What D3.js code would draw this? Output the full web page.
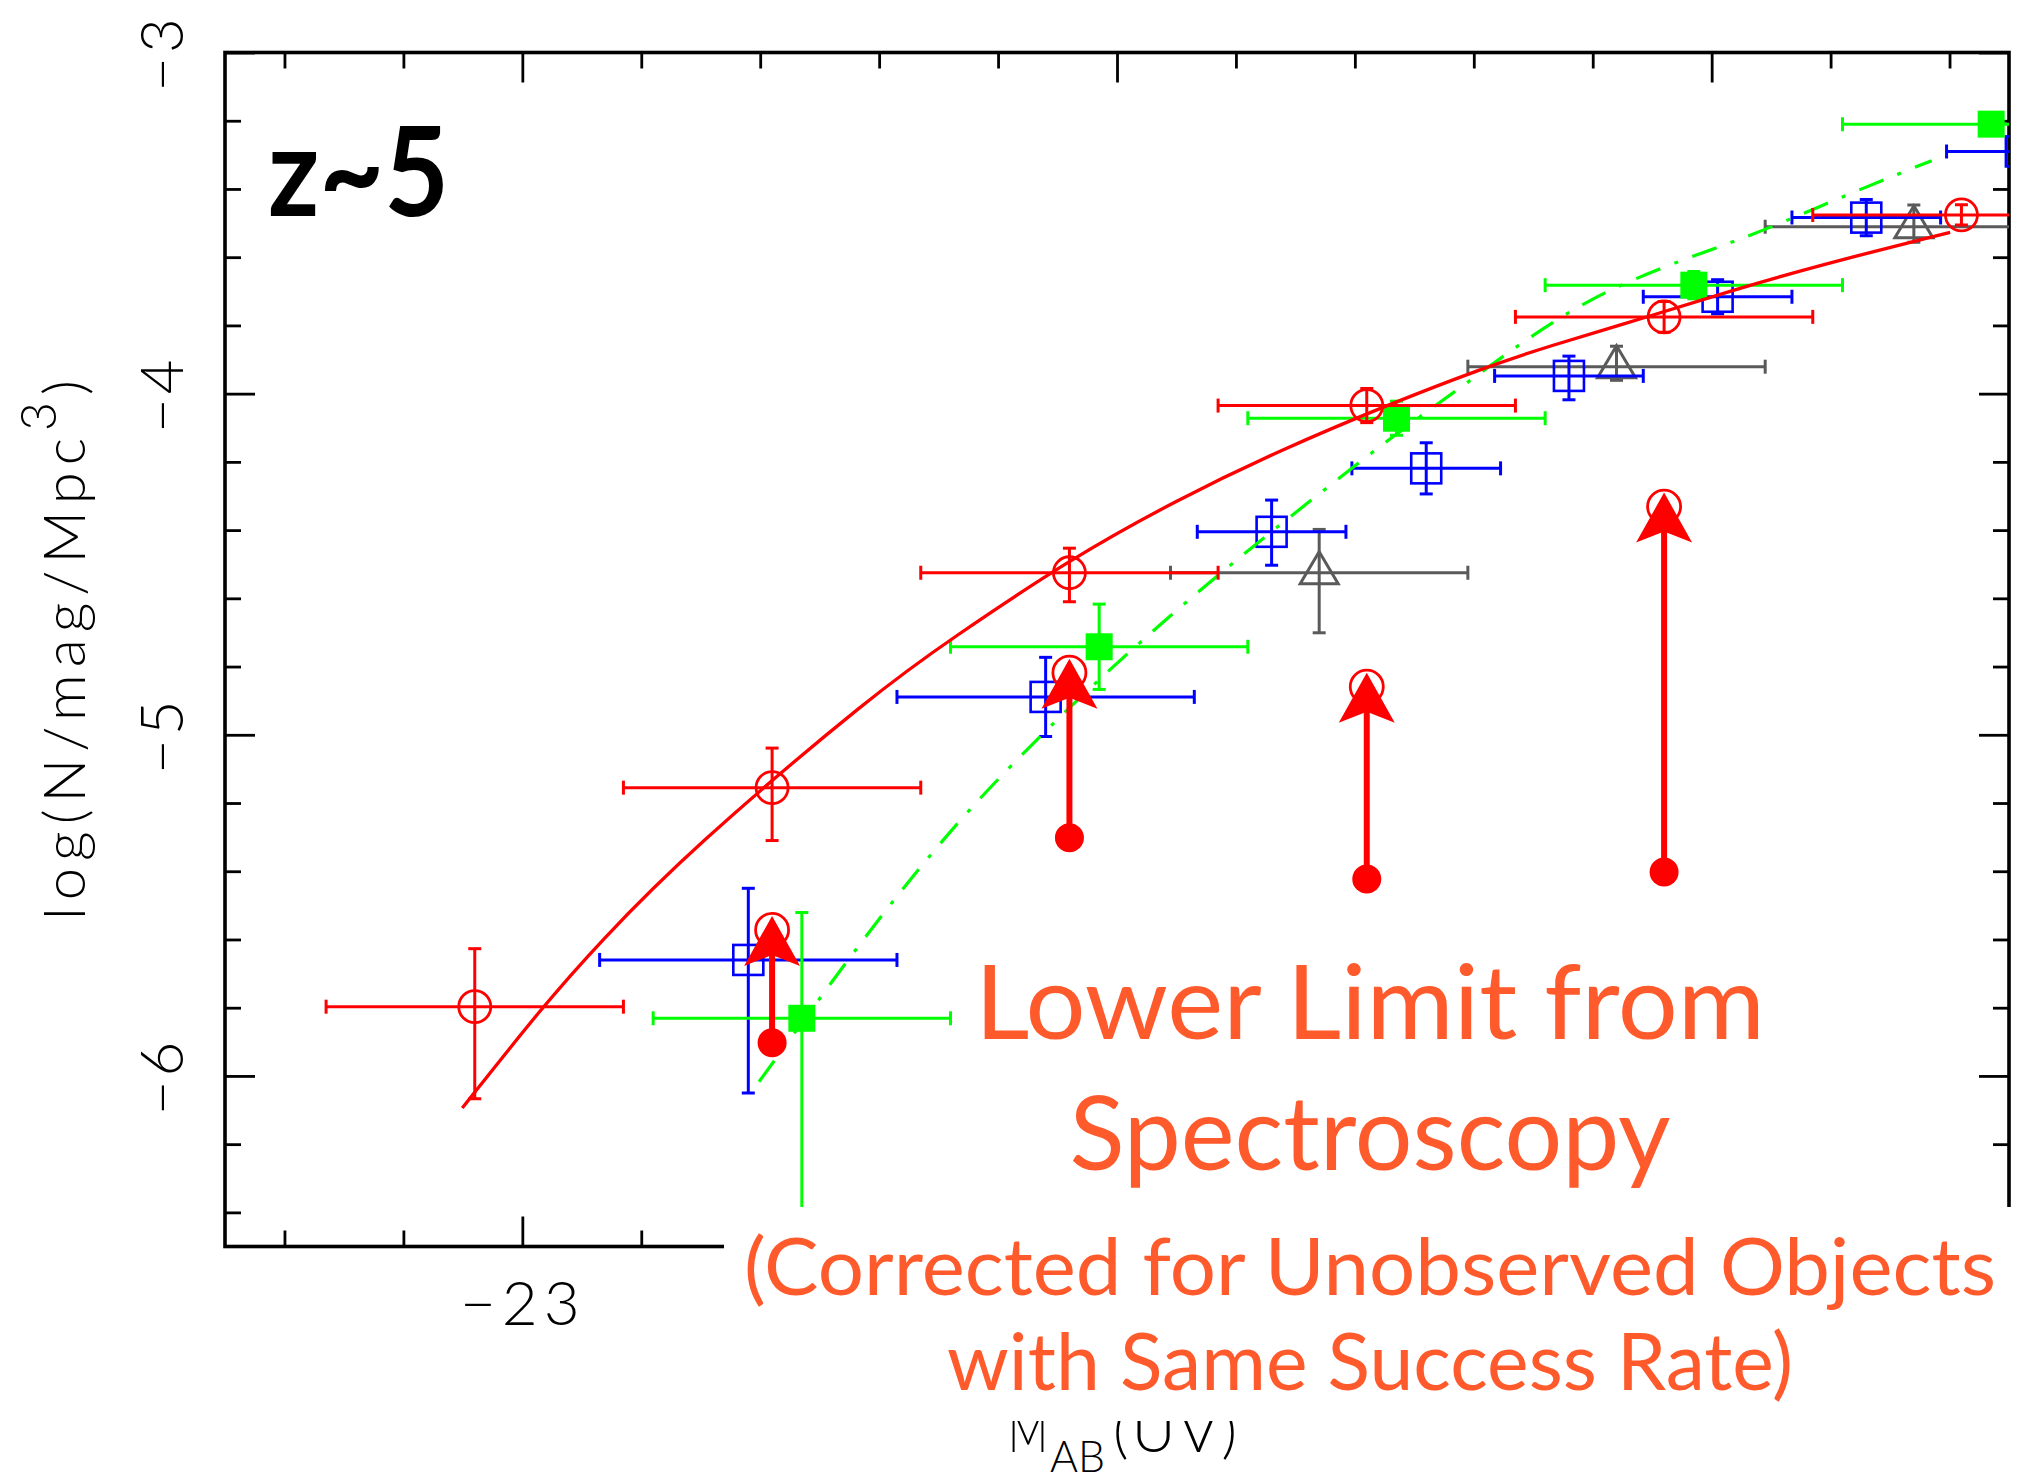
<!DOCTYPE html>
<html>
<head>
<meta charset="utf-8">
<script src="https://cdn.jsdelivr.net/npm/d3@7"></script>
<style>
  html, body { margin: 0; padding: 0; background: #fff; }
  svg { display: block; }
</style>
</head>
<body>
<svg id="chart" width="2018" height="1478"></svg>
<script>
// ---- UV luminosity function at z~5 ----

// Axis ticks
const xMajorTicks = [-23, -22, -21];
const xLabelTicks = [-23];
const yMajorTicks = [-3, -4, -5, -6];

// Open red circles (log phi with asymmetric errors)
const redMag      = [-23.08, -22.58, -22.08, -21.58, -21.08, -20.58];
const redLogPhi   = [-5.797, -5.155, -4.525, -4.035, -3.775, -3.476];
const redMagErr   = [0.25, 0.25, 0.25, 0.25, 0.25, 0.25];
const redErrUp    = [0.17, 0.116, 0.072, 0.05, 0.045, 0.03];
const redErrDown  = [0.27, 0.155, 0.085, 0.05, 0.045, 0.03];

// Open blue squares
const blueMag     = [-22.62, -22.12, -21.74, -21.48, -21.24, -20.99, -20.74, -20.48];
const blueLogPhi  = [-5.66, -4.889, -4.405, -4.219, -3.948, -3.716, -3.484, -3.29];
const blueMagErr  = [0.25, 0.25, 0.125, 0.125, 0.125, 0.125, 0.125, 0.125];
const blueErrUp   = [0.21, 0.116, 0.093, 0.075, 0.058, 0.05, 0.053, 0.04];
const blueErrDown = [0.39, 0.116, 0.098, 0.075, 0.07, 0.05, 0.053, 0.04];

// Filled green squares
const greenMag     = [-22.53, -22.03, -21.53, -21.03, -20.53];
const greenLogPhi  = [-5.831, -4.742, -4.072, -3.682, -3.21];
const greenMagErr  = [0.25, 0.25, 0.25, 0.25, 0.25];
const greenErrUp   = [0.31, 0.125, 0.05, 0.04, 0.03];
const greenErrDown = [0.62, 0.125, 0.05, 0.04, 0.03];

// Open grey triangles
const greyMag     = [-21.66, -21.16, -20.66];
const greyLogPhi  = [-4.525, -3.921, -3.511];
const greyMagErr  = [0.25, 0.25, 0.25];
const greyErrUp   = [0.127, 0.06, 0.064];
const greyErrDown = [0.176, 0.04, 0.045];

// Spectroscopic lower limits: measured (filled dot) -> corrected (open circle)
const limitMag  = [-22.58, -22.08, -21.58, -21.08];
const limitLow  = [-5.903, -5.302, -5.423, -5.402];
const limitHigh = [-5.572, -4.818, -4.859, -4.331];

// Schechter fit (red solid)
const fitRedMag    = [-23.101, -22.966, -22.872, -22.719, -22.401, -22.281, -22.082, -21.900,
                      -21.725, -21.538, -21.384, -21.277, -21.107, -20.961, -20.822, -20.599];
const fitRedLogPhi = [-6.094, -5.797, -5.612, -5.338, -4.869, -4.722, -4.488, -4.312,
                      -4.165, -4.028, -3.925, -3.862, -3.775, -3.695, -3.625, -3.527];

// Comparison fit (green dash-dot)
const fitGreenMag    = [-22.602, -22.439, -22.349, -22.251, -22.131, -22.026, -21.913, -21.800,
                        -21.688, -21.538, -21.423, -21.307, -21.184, -21.038, -20.922, -20.768, -20.630];
const fitGreenLogPhi = [-6.017, -5.626, -5.426, -5.221, -5.006, -4.830, -4.654, -4.488,
                        -4.332, -4.126, -3.984, -3.833, -3.700, -3.600, -3.530, -3.413, -3.317];

// ---- layout ----
const svg = d3.select("#chart");
const L = 225, R = 2009, T = 52.5, B = 1246.5;
const x = d3.scaleLinear().domain([-23.5, -20.5]).range([L, R]);
const y = d3.scaleLinear().domain([-6.5, -3]).range([B, T]);

const AXIS_FONT = "Lato, 'Open Sans', 'DejaVu Sans', sans-serif";
const RED = "#ff0000", BLUE = "#0000ff", GREEN = "#00ff00", GREY = "#5a5a5a";

const xMinor = d3.range(-234, -204, 2).map(v => v / 10).filter(v => !xMajorTicks.includes(v));
const yMinor = d3.range(-64, -30, 2).map(v => v / 10).filter(v => !yMajorTicks.includes(v));

// ---- axes (ticks point inwards on all four sides) ----
function styleAxis(g) {
  g.select(".domain").remove();
  g.selectAll(".tick line").attr("stroke", "#000").attr("stroke-width", 2.8);
}
function addAxis(axisFn, scale, ticks, size, transform, labels) {
  const a = axisFn(scale).tickValues(ticks).tickSize(-size).tickSizeOuter(0)
    .tickFormat(labels ? (d => "\u2212" + Math.abs(d)) : "");
  const g = svg.append("g").attr("transform", transform).call(a).call(styleAxis);
  g.attr("font-family", AXIS_FONT).attr("font-size", 60).attr("font-weight", 300);
  return g;
}
addAxis(d3.axisTop, x, xMinor, 16, `translate(0,${T})`, false);
addAxis(d3.axisTop, x, xMajorTicks, 30, `translate(0,${T})`, false);
addAxis(d3.axisBottom, x, xMinor, 16, `translate(0,${B})`, false);
addAxis(d3.axisBottom, x, xMajorTicks, 30, `translate(0,${B})`, false);
const xLab = svg.append("g").attr("transform", `translate(0,${B})`)
  .call(d3.axisBottom(x).tickValues(xLabelTicks).tickSize(0).tickFormat(d => "\u2212" + Math.abs(d)));
xLab.select(".domain").remove();
xLab.attr("font-family", AXIS_FONT).attr("font-size", 62).attr("font-weight", 300);
xLab.selectAll(".tick text").attr("y", 78).attr("dy", null)
  .attr("fill", "#000").attr("letter-spacing", 6);
addAxis(d3.axisLeft, y, yMinor, 16, `translate(${L},0)`, false);
const yLab = addAxis(d3.axisLeft, y, yMajorTicks, 30, `translate(${L},0)`, true);
yLab.selectAll(".tick text").attr("x", null).attr("dy", null)
  .attr("text-anchor", "middle").attr("fill", "#000").attr("letter-spacing", 4)
  .attr("transform", "translate(-42,0) rotate(-90)");
addAxis(d3.axisRight, y, yMinor, 16, `translate(${R},0)`, false);
addAxis(d3.axisRight, y, yMajorTicks, 30, `translate(${R},0)`, false);

// frame
svg.append("rect").attr("x", L).attr("y", T).attr("width", R - L).attr("height", B - T)
  .attr("fill", "none").attr("stroke", "#000").attr("stroke-width", 3.6);

// ---- data layer ----
svg.append("clipPath").attr("id", "plotClip")
  .append("rect").attr("x", L).attr("y", T).attr("width", R - L).attr("height", B - T);
const plot = svg.append("g").attr("clip-path", "url(#plotClip)");

function zipPts(mag, phi, dm, up, dn) {
  return mag.map((m, i) => ({ m, p: phi[i], dm: dm[i], up: up[i], dn: dn[i] }));
}
function errorBars(data, color, width) {
  const g = plot.append("g").attr("stroke", color).attr("stroke-width", width).attr("fill", "none");
  const capH = 7, capV = 6.5;
  data.forEach(d => {
    const cx = x(d.m), cy = y(d.p);
    const x0 = x(d.m - d.dm), x1 = x(d.m + d.dm);
    const y0 = y(d.p + d.up), y1 = y(d.p - d.dn);
    g.append("line").attr("x1", x0).attr("x2", x1).attr("y1", cy).attr("y2", cy);
    g.append("line").attr("x1", x0).attr("x2", x0).attr("y1", cy - capH).attr("y2", cy + capH);
    g.append("line").attr("x1", x1).attr("x2", x1).attr("y1", cy - capH).attr("y2", cy + capH);
    g.append("line").attr("x1", cx).attr("x2", cx).attr("y1", y0).attr("y2", y1);
    g.append("line").attr("x1", cx - capV).attr("x2", cx + capV).attr("y1", y0).attr("y2", y0);
    g.append("line").attr("x1", cx - capV).attr("x2", cx + capV).attr("y1", y1).attr("y2", y1);
  });
}

// grey triangles
const greyPts = zipPts(greyMag, greyLogPhi, greyMagErr, greyErrUp, greyErrDown);
errorBars(greyPts, GREY, 3);
plot.append("g").selectAll("path").data(greyPts).join("path")
  .attr("d", d => {
    const cx = x(d.m), cy = y(d.p);
    return `M${cx},${cy - 21} L${cx + 19},${cy + 11} L${cx - 19},${cy + 11} Z`;
  })
  .attr("fill", "none").attr("stroke", GREY).attr("stroke-width", 3);

// blue squares
const bluePts = zipPts(blueMag, blueLogPhi, blueMagErr, blueErrUp, blueErrDown);
errorBars(bluePts, BLUE, 3);
plot.append("g").selectAll("rect").data(bluePts).join("rect")
  .attr("x", d => x(d.m) - 15).attr("y", d => y(d.p) - 15)
  .attr("width", 30).attr("height", 30)
  .attr("fill", "none").attr("stroke", BLUE).attr("stroke-width", 2.6);

// green squares
const greenPts = zipPts(greenMag, greenLogPhi, greenMagErr, greenErrUp, greenErrDown);
errorBars(greenPts, GREEN, 3);
plot.append("g").selectAll("rect").data(greenPts).join("rect")
  .attr("x", d => x(d.m) - 13.5).attr("y", d => y(d.p) - 13.5)
  .attr("width", 27).attr("height", 27).attr("fill", GREEN);

// fitted curves
const line = d3.line().x(d => x(d[0])).y(d => y(d[1])).curve(d3.curveBasis);
plot.append("path")
  .attr("d", line(fitGreenMag.map((m, i) => [m, fitGreenLogPhi[i]])))
  .attr("fill", "none").attr("stroke", GREEN).attr("stroke-width", 3.2)
  .attr("stroke-dasharray", "26 15 4 15");
plot.append("path")
  .attr("d", line(fitRedMag.map((m, i) => [m, fitRedLogPhi[i]])))
  .attr("fill", "none").attr("stroke", RED).attr("stroke-width", 3.3);

// red circles
const redPts = zipPts(redMag, redLogPhi, redMagErr, redErrUp, redErrDown);
errorBars(redPts, RED, 3);
plot.append("g").selectAll("circle").data(redPts).join("circle")
  .attr("cx", d => x(d.m)).attr("cy", d => y(d.p)).attr("r", 16)
  .attr("fill", "none").attr("stroke", RED).attr("stroke-width", 2.8);

// spectroscopic lower limits with arrows
const limits = limitMag.map((m, i) => ({ m, lo: limitLow[i], hi: limitHigh[i] }));
const lg = plot.append("g");
limits.forEach(d => {
  const cx = x(d.m), yLo = y(d.lo), yHi = y(d.hi);
  const tip = yHi - 14;
  lg.append("line").attr("x1", cx).attr("x2", cx).attr("y1", yLo).attr("y2", tip + 36)
    .attr("stroke", RED).attr("stroke-width", 6);
  lg.append("path")
    .attr("d", `M${cx},${tip} L${cx + 28},${tip + 50} L${cx},${tip + 39} L${cx - 28},${tip + 50} Z`)
    .attr("fill", RED);
  lg.append("circle").attr("cx", cx).attr("cy", yHi).attr("r", 16.5)
    .attr("fill", "none").attr("stroke", RED).attr("stroke-width", 2.8);
  lg.append("ellipse").attr("cx", cx).attr("cy", yLo).attr("rx", 14.5).attr("ry", 14.5)
    .attr("fill", RED);
});

// ---- axis titles ----
function fitSpacing(textSel, target) {
  const node = textSel.node();
  const n = node.textContent.length;
  const natural = node.getComputedTextLength();
  textSel.attr("letter-spacing", Math.max(0, (target - natural) / n));
}

const yTitle = svg.append("text")
  .attr("transform", "translate(85,920) rotate(-90)")
  .attr("font-family", AXIS_FONT).attr("font-weight", 300).attr("font-size", 58)
  .attr("fill", "#000");
yTitle.append("tspan").text("log(N/mag/Mpc");
yTitle.append("tspan").attr("dy", -29).attr("font-size", 50).text("3");
yTitle.append("tspan").attr("dy", 29).text(")");
fitSpacing(yTitle, 547);

const xTitle = svg.append("g")
  .attr("font-family", AXIS_FONT).attr("font-weight", 300).attr("fill", "#000");
xTitle.append("text").attr("x", 1008).attr("y", 1452).attr("font-size", 60)
  .attr("textLength", 40).attr("lengthAdjust", "spacingAndGlyphs").text("M");
xTitle.append("text").attr("x", 1050).attr("y", 1472).attr("font-size", 44)
  .attr("textLength", 55).attr("lengthAdjust", "spacingAndGlyphs").text("AB");
xTitle.append("text").attr("x", 1113).attr("y", 1452).attr("font-size", 60)
  .attr("textLength", 124).attr("lengthAdjust", "spacing").text("(UV)");

// redshift tag
svg.append("text").attr("x", 268).attr("y", 216)
  .attr("font-family", "Lato, 'Open Sans', sans-serif").attr("font-weight", 700)
  .attr("font-size", 124).attr("textLength", 181).attr("lengthAdjust", "spacingAndGlyphs")
  .attr("fill", "#000").text("z~5");

// ---- annotation box ----
svg.append("rect").attr("x", 724).attr("y", 1207).attr("width", 2018 - 724).attr("height", 1421 - 1207)
  .attr("fill", "#fff");

const noteLines = [
  { text: "Lower Limit from", y: 1039, size: 102, len: 790 },
  { text: "Spectroscopy", y: 1170, size: 102, len: 601 },
  { text: "(Corrected for Unobserved Objects", y: 1295, size: 80, len: 1252 },
  { text: "with Same Success Rate)", y: 1390, size: 80, len: 846 }
];
svg.append("g").attr("font-family", "Lato, 'Open Sans', sans-serif").attr("fill", "#ff5a2c")
  .selectAll("text").data(noteLines).join("text")
  .attr("x", 1370).attr("y", d => d.y).attr("text-anchor", "middle")
  .attr("font-size", d => d.size).attr("textLength", d => d.len)
  .attr("lengthAdjust", "spacingAndGlyphs").text(d => d.text);
</script>
</body>
</html>
